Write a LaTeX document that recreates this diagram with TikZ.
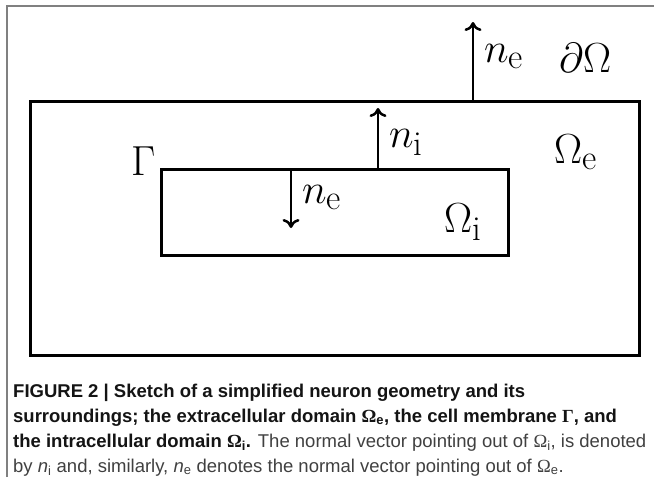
\documentclass[tikz,border=0pt]{standalone}
\usepackage{graphicx}
\usepackage{fontspec}
\newfontfamily\capfont{Liberation Sans}
\newfontfamily\capserif{Liberation Serif}
\usetikzlibrary{arrows.meta}
\definecolor{framegrey}{gray}{0.5}
\definecolor{captext}{gray}{0.25}
\definecolor{capbold}{gray}{0.08}
\newcommand{\biglbl}[1]{\scalebox{1.69}{\Huge #1}}
\newcommand{\capOmega}{{\capserif Ω}}
\newcommand{\capGamma}{{\capserif Γ}}
\begin{document}
\begin{tikzpicture}[x=1pt,y=-1pt,
  box/.style={draw, line width=3pt, inner sep=0pt, outer sep=0pt},
  vec/.style={line width=2.5pt, -{To[length=9pt,width=17pt]}},
  lbl/.style={anchor=base west, inner sep=0pt},
  captionline/.style={anchor=base west, inner sep=0pt, font=\capfont\fontsize{18.5pt}{25pt}\selectfont, text=captext}]
\useasboundingbox (0,0) rectangle (654,482);
\draw[framegrey, line width=1.5pt] (7,477) -- (7,6) -- (654,6);
\node[box, minimum width=609pt, minimum height=254pt] (outer) at (334.5,228) {};
\node[box, minimum width=347pt, minimum height=86pt] (inner) at (334.5,212) {};
\coordinate (topTip) at (473,22);
\coordinate (niTip) at (378,108);
\coordinate (neTip) at (291,228);
\draw[vec] (outer.north -| topTip) -- (topTip);
\draw[vec] (inner.north -| niTip) -- (niTip);
\draw[vec] (inner.north -| neTip) -- (neTip);
\node[lbl] (neTop) at (484,62) {\biglbl{$n_{\mathrm{e}}$}};
\node[lbl] (dOmega) at (559,72) {\biglbl{$\partial\Omega$}};
\node[lbl] (OmegaE) at (554,163) {\biglbl{$\Omega_{\mathrm{e}}$}};
\node[lbl] (Gamma) at (131,175) {\biglbl{$\Gamma$}};
\node[lbl] (ni) at (389,147) {\biglbl{$n_{\mathrm{i}}$}};
\node[lbl] (neIn) at (302,203) {\biglbl{$n_{\mathrm{e}}$}};
\node[lbl] (OmegaI) at (444,232) {\biglbl{$\Omega_{\mathrm{i}}$}};
\node[captionline] (cap1) at (13,397) {\color{capbold}\bfseries FIGURE 2 | Sketch of a simplified neuron geometry and its};
\node[captionline] (cap2) at (13,422) {\color{capbold}\bfseries surroundings; the extracellular domain \capOmega\textsubscript{e}, the cell membrane \capGamma, and};
\node[captionline] (cap3) at (13,447) {{\color{capbold}\bfseries the intracellular domain \capOmega\textsubscript{i}.} The normal vector pointing out of \capOmega\textsubscript{i}, is denoted};
\node[captionline] (cap4) at (13,472) {by \textit{n}\textsubscript{i} and, similarly, \textit{n}\textsubscript{e} denotes the normal vector pointing out of \capOmega\textsubscript{e}.};
\end{tikzpicture}
\end{document}
